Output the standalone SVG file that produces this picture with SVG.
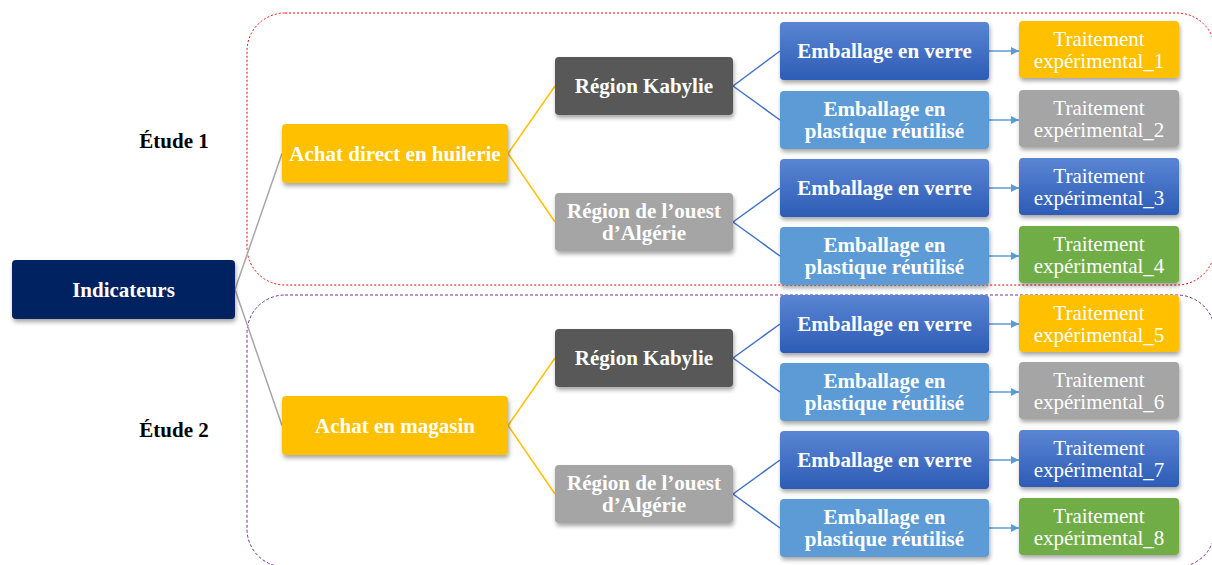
<svg xmlns="http://www.w3.org/2000/svg" width="1212" height="565" viewBox="0 0 1212 565">
<defs>
<linearGradient id="gBlue" x1="0" y1="0" x2="0" y2="1">
<stop offset="0" stop-color="#5A85D3"/>
<stop offset="1" stop-color="#2D5CB6"/>
</linearGradient>
<filter id="sh" x="-10%" y="-20%" width="120%" height="150%">
<feDropShadow dx="1" dy="3" stdDeviation="2" flood-color="#000" flood-opacity="0.35"/>
</filter>
<marker id="ah" viewBox="0 0 10 10" refX="10" refY="5" markerWidth="8" markerHeight="8" markerUnits="userSpaceOnUse" orient="auto">
<path d="M0,0 L10,5 L0,10 z" fill="#5B9BD5"/>
</marker>
</defs>
<style>
text{font-family:"Liberation Serif","Times New Roman",serif;font-size:21px;fill:#fff;text-anchor:middle}
.b{font-weight:bold}
.lbl{fill:#000;font-weight:bold}
rect.n{filter:url(#sh)}
.ind{fill:#002060}
.ach{fill:#FFC000}
.rk{fill:#595959}
.ro{fill:#A5A5A5}
.ev{fill:url(#gBlue)}
.ep{fill:#5B9BD5}
.ty{fill:#FFC000}
.tg{fill:#A5A5A5}
.tb{fill:url(#gBlue)}
.tv{fill:#70AD47}
.c0{stroke:#A6A6A6;stroke-width:1.5;fill:none}
.c1{stroke:#FFC000;stroke-width:1.5;fill:none}
.c2{stroke:#4472C4;stroke-width:1.5;fill:none}
.c3{stroke:#5B9BD5;stroke-width:1.5;fill:none;marker-end:url(#ah)}
</style>
<rect x="0" y="0" width="1212" height="565" fill="#fff"/>
<g id="study-frames">
<rect x="247" y="13" width="968" height="272" rx="38" fill="none" stroke="#FF0000" stroke-width="1" stroke-dasharray="2,2"/>
<rect x="247" y="295" width="968" height="272" rx="38" fill="none" stroke="#7030A0" stroke-width="1" stroke-dasharray="3,2"/>
</g>
<text class="lbl" x="174" y="148">Étude 1</text>
<text class="lbl" x="174" y="437">Étude 2</text>
<g id="connectors">
<line class="c0" x1="235" y1="289.5" x2="282" y2="153.5"/>
<line class="c0" x1="235" y1="289.5" x2="282" y2="425.5"/>
<line class="c1" x1="508" y1="153.5" x2="555" y2="86"/>
<line class="c1" x1="508" y1="153.5" x2="555" y2="222"/>
<line class="c1" x1="508" y1="425.5" x2="555" y2="358"/>
<line class="c1" x1="508" y1="425.5" x2="555" y2="494"/>
<line class="c2" x1="733" y1="86" x2="780" y2="51"/>
<line class="c2" x1="733" y1="86" x2="780" y2="120"/>
<line class="c2" x1="733" y1="222" x2="780" y2="188"/>
<line class="c2" x1="733" y1="222" x2="780" y2="256"/>
<line class="c2" x1="733" y1="358" x2="780" y2="324"/>
<line class="c2" x1="733" y1="358" x2="780" y2="392"/>
<line class="c2" x1="733" y1="494" x2="780" y2="460"/>
<line class="c2" x1="733" y1="494" x2="780" y2="528"/>
<line class="c3" x1="989" y1="51" x2="1019" y2="51"/>
<line class="c3" x1="989" y1="120" x2="1019" y2="120"/>
<line class="c3" x1="989" y1="188" x2="1019" y2="188"/>
<line class="c3" x1="989" y1="256" x2="1019" y2="256"/>
<line class="c3" x1="989" y1="324" x2="1019" y2="324"/>
<line class="c3" x1="989" y1="392" x2="1019" y2="392"/>
<line class="c3" x1="989" y1="460" x2="1019" y2="460"/>
<line class="c3" x1="989" y1="528" x2="1019" y2="528"/>
</g>
<g id="n-indicateurs"><rect class="n ind" x="12" y="260" width="223" height="59" rx="4"/><text class="b" x="123.5" y="296.5">Indicateurs</text></g>
<g id="n-achat1"><rect class="n ach" x="282" y="124" width="226" height="59" rx="4"/><text class="b" x="395" y="160.5">Achat direct en huilerie</text></g>
<g id="n-achat2"><rect class="n ach" x="282" y="396" width="226" height="59" rx="4"/><text class="b" x="395" y="432.5">Achat en magasin</text></g>
<g id="n-kab1"><rect class="n rk" x="555" y="57" width="178" height="58" rx="4"/><text class="b" x="644" y="93">Région Kabylie</text></g>
<g id="n-ouest1"><rect class="n ro" x="555" y="193" width="178" height="58" rx="4"/><text class="b" x="644" y="217.5">Région de l’ouest<tspan x="644" dy="22">d’Algérie</tspan></text></g>
<g id="n-kab2"><rect class="n rk" x="555" y="329" width="178" height="58" rx="4"/><text class="b" x="644" y="365">Région Kabylie</text></g>
<g id="n-ouest2"><rect class="n ro" x="555" y="465" width="178" height="58" rx="4"/><text class="b" x="644" y="489.5">Région de l’ouest<tspan x="644" dy="22">d’Algérie</tspan></text></g>
<g id="n-e1"><rect class="n ev" x="780" y="22" width="209" height="58" rx="4"/><text class="b" x="884.5" y="58">Emballage en verre</text></g>
<g id="n-e2"><rect class="n ep" x="780" y="91" width="209" height="58" rx="4"/><text class="b" x="884.5" y="115.5">Emballage en<tspan x="884.5" dy="22">plastique réutilisé</tspan></text></g>
<g id="n-e3"><rect class="n ev" x="780" y="159" width="209" height="58" rx="4"/><text class="b" x="884.5" y="195">Emballage en verre</text></g>
<g id="n-e4"><rect class="n ep" x="780" y="227" width="209" height="58" rx="4"/><text class="b" x="884.5" y="251.5">Emballage en<tspan x="884.5" dy="22">plastique réutilisé</tspan></text></g>
<g id="n-e5"><rect class="n ev" x="780" y="295" width="209" height="58" rx="4"/><text class="b" x="884.5" y="331">Emballage en verre</text></g>
<g id="n-e6"><rect class="n ep" x="780" y="363" width="209" height="58" rx="4"/><text class="b" x="884.5" y="387.5">Emballage en<tspan x="884.5" dy="22">plastique réutilisé</tspan></text></g>
<g id="n-e7"><rect class="n ev" x="780" y="431" width="209" height="58" rx="4"/><text class="b" x="884.5" y="467">Emballage en verre</text></g>
<g id="n-e8"><rect class="n ep" x="780" y="499" width="209" height="58" rx="4"/><text class="b" x="884.5" y="523.5">Emballage en<tspan x="884.5" dy="22">plastique réutilisé</tspan></text></g>
<g id="n-t1"><rect class="n ty" x="1019" y="21" width="160" height="57" rx="4"/><text x="1099" y="46">Traitement<tspan x="1099" dy="22">expérimental_1</tspan></text></g>
<g id="n-t2"><rect class="n tg" x="1019" y="90" width="160" height="57" rx="4"/><text x="1099" y="115">Traitement<tspan x="1099" dy="22">expérimental_2</tspan></text></g>
<g id="n-t3"><rect class="n tb" x="1019" y="158" width="160" height="57" rx="4"/><text x="1099" y="183">Traitement<tspan x="1099" dy="22">expérimental_3</tspan></text></g>
<g id="n-t4"><rect class="n tv" x="1019" y="226" width="160" height="57" rx="4"/><text x="1099" y="251">Traitement<tspan x="1099" dy="22">expérimental_4</tspan></text></g>
<g id="n-t5"><rect class="n ty" x="1019" y="295" width="160" height="57" rx="4"/><text x="1099" y="320">Traitement<tspan x="1099" dy="22">expérimental_5</tspan></text></g>
<g id="n-t6"><rect class="n tg" x="1019" y="362" width="160" height="57" rx="4"/><text x="1099" y="387">Traitement<tspan x="1099" dy="22">expérimental_6</tspan></text></g>
<g id="n-t7"><rect class="n tb" x="1019" y="430" width="160" height="57" rx="4"/><text x="1099" y="455">Traitement<tspan x="1099" dy="22">expérimental_7</tspan></text></g>
<g id="n-t8"><rect class="n tv" x="1019" y="498" width="160" height="57" rx="4"/><text x="1099" y="523">Traitement<tspan x="1099" dy="22">expérimental_8</tspan></text></g>
</svg>
